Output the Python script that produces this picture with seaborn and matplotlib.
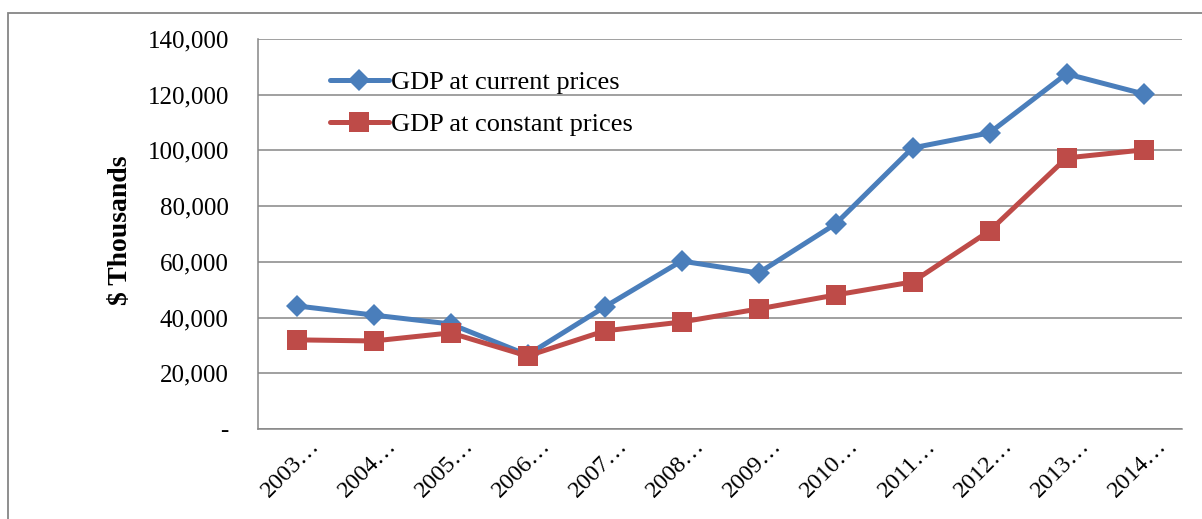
import pandas as pd
import matplotlib
matplotlib.use("Agg")
import matplotlib.pyplot as plt
from matplotlib.patches import Rectangle
from matplotlib.transforms import ScaledTranslation
import seaborn as sns

# datos
years = ['2003', '2004', '2005', '2006', '2007', '2008', '2009', '2010', '2011', '2012', '2013', '2014']
year_labels = [y + '\u2026' for y in years]
gdp_current = [44200, 40900, 37700, 26600, 43800, 60300, 56000, 73600, 100900, 106300, 127500, 120300]
gdp_constant = [32000, 31600, 34500, 26200, 35200, 38400, 43100, 48100, 52800, 71100, 97300, 100200]
series_names = ['GDP at current prices', 'GDP at constant prices']
y_ticks = [0, 20000, 40000, 60000, 80000, 100000, 120000, 140000]
y_tick_labels = ['-', '20,000', '40,000', '60,000', '80,000', '100,000', '120,000', '140,000']

BLUE = '#4A7EBB'
RED = '#BE4B48'
GRAY = '#868686'

sns.set_style("white")
plt.rcParams['font.family'] = ['Liberation Serif', 'DejaVu Serif']
plt.rcParams.update({'text.color': 'black', 'axes.labelcolor': 'black',
                     'xtick.color': 'black', 'ytick.color': 'black'})

df = pd.DataFrame({'pos': list(range(len(years))),
                   'current': gdp_current,
                   'constant': gdp_constant})

fig = plt.figure(figsize=(12.02, 5.19), dpi=100)
ax = fig.add_axes([258 / 1202, 1 - 429 / 519, 924 / 1202, 390 / 519])

sns.lineplot(data=df, x='pos', y='current', ax=ax, color=BLUE, linewidth=3.6,
             marker='D', markersize=11, markeredgewidth=0, label=series_names[0])
sns.lineplot(data=df, x='pos', y='constant', ax=ax, color=RED, linewidth=3.6,
             marker='s', markersize=14, markeredgewidth=0, label=series_names[1])

ax.set_xlim(-0.5, len(years) - 0.5)
ax.set_ylim(0, 140000)
ax.set_yticks(y_ticks)
ax.set_yticklabels(y_tick_labels, fontsize=18)
ax.set_xticks(range(len(years)))
ax.set_xticklabels(year_labels, fontsize=17.5, rotation=45, ha='right', va='center',
                   rotation_mode='anchor')
ax.tick_params(axis='y', length=0, pad=21)
ax.tick_params(axis='x', length=0, pad=10)
# desplazo las etiquetas como en el original
desplazamiento = ScaledTranslation(0.2, 0, fig.dpi_scale_trans)
for lbl in ax.get_xticklabels():
    lbl.set_transform(lbl.get_transform() + desplazamiento)

ax.set_xlabel('')
ax.set_ylabel('$ Thousands', fontsize=20, fontweight='bold')
ax.yaxis.set_label_coords(-0.135, 0.51)

ax.yaxis.grid(True, color=GRAY, linewidth=1.1)
ax.xaxis.grid(False)
for side in ['top', 'right']:
    ax.spines[side].set_visible(False)
for side in ['left', 'bottom']:
    ax.spines[side].set_color(GRAY)
    ax.spines[side].set_linewidth(1.1)

ax.legend(loc='upper left', bbox_to_anchor=(0.067, 0.945), frameon=False, fontsize=19,
          handlelength=2.2, handletextpad=0.1, labelspacing=0.7, borderaxespad=0)

# marco exterior
fig.patches.append(Rectangle((8 / 1202, -0.1), 1.2, 1 - 13 / 519 + 0.1, transform=fig.transFigure,
                             fill=False, edgecolor=GRAY, linewidth=1.3, zorder=0))

fig.savefig('out.png', dpi=100)
